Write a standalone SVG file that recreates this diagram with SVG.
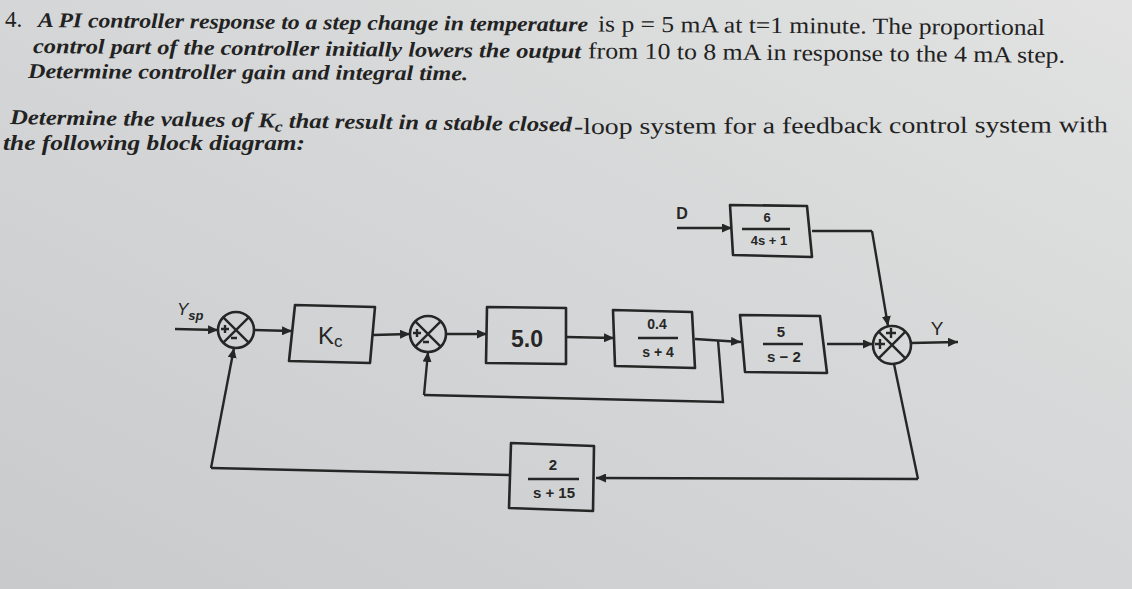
<svg xmlns="http://www.w3.org/2000/svg" width="1132" height="589" viewBox="0 0 1132 589">
<defs>
<linearGradient id="paper" x1="0" y1="1" x2="1" y2="0">
<stop offset="0" stop-color="#c8cacb"/>
<stop offset="0.5" stop-color="#d4d6d7"/>
<stop offset="1" stop-color="#e1e2e1"/>
</linearGradient>
<marker id="arr" markerUnits="userSpaceOnUse" markerWidth="11" markerHeight="9" refX="10" refY="4.5" orient="auto">
<path d="M0,0 L10,4.5 L0,9 z" fill="#262626"/>
</marker>
<style>
.q{font-family:"Liberation Serif","Times New Roman",serif;font-size:21px;fill:#222}
.bi{font-style:italic;font-weight:bold}
.up{font-weight:normal;font-size:23px}
.box{fill:none;stroke:#262626;stroke-width:2.6;stroke-linejoin:round}
.sum{fill:none;stroke:#262626;stroke-width:2.6}
.sg{fill:none;stroke:#262626;stroke-width:2.4}
.w{fill:none;stroke:#262626;stroke-width:2.4}
.wa{fill:none;stroke:#262626;stroke-width:2.4;marker-end:url(#arr)}
.t{font-family:"Liberation Sans",Arial,sans-serif;font-weight:bold;fill:#262626;text-anchor:middle}
</style>
</defs>
<rect x="0" y="0" width="1132" height="589" fill="url(#paper)"/>

<g id="question">
<text class="q up" x="5" y="27">4.</text>
<g transform="rotate(0.46 38 27)">
<text class="q bi" x="38" y="27" textLength="550" lengthAdjust="spacingAndGlyphs">A PI controller response to a step change in temperature</text>
<text class="q up" x="598" y="27" textLength="447" lengthAdjust="spacingAndGlyphs">is p = 5 mA at t=1 minute. The proportional</text>
</g>
<g transform="rotate(0.55 33 53)">
<text class="q bi" x="33" y="53" textLength="548" lengthAdjust="spacingAndGlyphs">control part of the controller initially lowers the output</text>
<text class="q up" x="588" y="53" textLength="477" lengthAdjust="spacingAndGlyphs">from 10 to 8 mA in response to the 4 mA step.</text>
</g>
<text class="q bi" x="28" y="78" textLength="440" lengthAdjust="spacingAndGlyphs" transform="rotate(0.3 28 78)">Determine controller gain and integral time.</text>
<text class="q bi" x="10" y="124" textLength="562" lengthAdjust="spacingAndGlyphs" transform="rotate(0.75 10 124)">Determine the values of K<tspan font-size="15" dy="4">c</tspan><tspan dy="-4"> that result in a stable closed</tspan></text>
<text class="q up" x="574" y="134" textLength="534" lengthAdjust="spacingAndGlyphs" transform="rotate(-0.2 574 134)">-loop system for a feedback control system with</text>
<text class="q bi" x="3" y="150" textLength="302" lengthAdjust="spacingAndGlyphs">the following block diagram:</text>
</g>

<g id="connectors">
<path class="wa" d="M175,329 L218,330"/>
<path class="wa" d="M254,330 L292,331"/>
<path class="wa" d="M373,335 L410,334"/>
<path class="wa" d="M446,334 L487,334"/>
<path class="wa" d="M566,337 L614,338"/>
<path class="wa" d="M695,339 L741,342"/>
<path class="w" d="M718,340 L723,402 L424,395"/>
<path class="wa" d="M424,395 L428,352"/>
<path class="wa" d="M827,344 L873,344"/>
<path class="wa" d="M911,343 L958,342"/>
<path class="wa" d="M677,228 L732,228"/>
<path class="w" d="M812,231 L872,231"/>
<path class="wa" d="M872,231 L888,326"/>
<path class="w" d="M894,364 L918,479"/>
<path class="wa" d="M918,479 L596,478"/>
<path class="w" d="M509,475 L211,468"/>
<path class="wa" d="M211,468 L234,348"/>
</g>

<g id="Ysp"><text x="177" y="315" font-family="Liberation Sans, Arial, sans-serif" font-style="italic" font-size="17" fill="#262626">Y<tspan font-size="13" font-weight="bold" dy="5">sp</tspan></text></g>

<g id="sum1">
<circle class="sum" cx="236" cy="330" r="18"/>
<path class="sg" d="M223.3,317.3 L248.7,342.7 M248.7,317.3 L223.3,342.7"/>
<path class="sg" d="M221,329 L229,329 M225,325 L225,333 M231,338 L237,338"/>
</g>
<g id="Kc">
<polygon class="box" points="295,305 375,307 370,363 289,361"/>
<text x="318" y="344" font-family="Liberation Sans, Arial, sans-serif" font-size="24" fill="#262626">K<tspan font-size="17" dy="3">c</tspan></text>
</g>
<g id="sum2">
<circle class="sum" cx="428" cy="334" r="18"/>
<path class="sg" d="M415.3,321.3 L440.7,346.7 M440.7,321.3 L415.3,346.7"/>
<path class="sg" d="M413,333 L421,333 M417,329 L417,337 M423,342 L429,342"/>
</g>
<g id="G5">
<polygon class="box" points="487,307 566,308 566,364 486,363"/>
<text class="t" x="527" y="347" font-size="23">5.0</text>
</g>
<g id="Gv">
<polygon class="box" points="613,310 692,312 695,368 615,366"/>
<text class="t" x="657" y="329" font-size="14">0.4</text>
<path class="w" d="M638,338 L678,338" stroke-width="2"/>
<text class="t" x="658" y="357" font-size="14">s + 4</text>
</g>
<g id="Gd">
<text class="t" x="682" y="219" font-size="16">D</text>
<polygon class="box" points="730,205 807,206 812,257 733,255"/>
<text class="t" x="767" y="222" font-size="13">6</text>
<path class="w" d="M742,229 L790,229" stroke-width="2"/>
<text class="t" x="769" y="245" font-size="13">4s + 1</text>
</g>
<g id="Gp">
<polygon class="box" points="740,315 820,316 827,373 745,372"/>
<text class="t" x="781" y="337" font-size="15">5</text>
<path class="w" d="M763,344 L803,344" stroke-width="2"/>
<text class="t" x="784" y="362" font-size="15">s − 2</text>
</g>
<g id="sum3">
<circle class="sum" cx="892" cy="345" r="19"/>
<path class="sg" d="M878.6,331.6 L905.4,358.4 M905.4,331.6 L878.6,358.4"/>
<path class="sg" d="M886,333 L896,333 M891,328 L891,338 M875,344 L885,344 M880,339 L880,349"/>
<text x="937" y="335" font-family="Liberation Sans, Arial, sans-serif" font-size="19" fill="#262626" text-anchor="middle">Y</text>
</g>
<g id="Gm">
<polygon class="box" points="511,443 594,446 593,511 509,508"/>
<text class="t" x="553" y="470" font-size="15">2</text>
<path class="w" d="M528,479 L579,479" stroke-width="2"/>
<text class="t" x="554" y="498" font-size="15">s + 15</text>
</g>
</svg>
